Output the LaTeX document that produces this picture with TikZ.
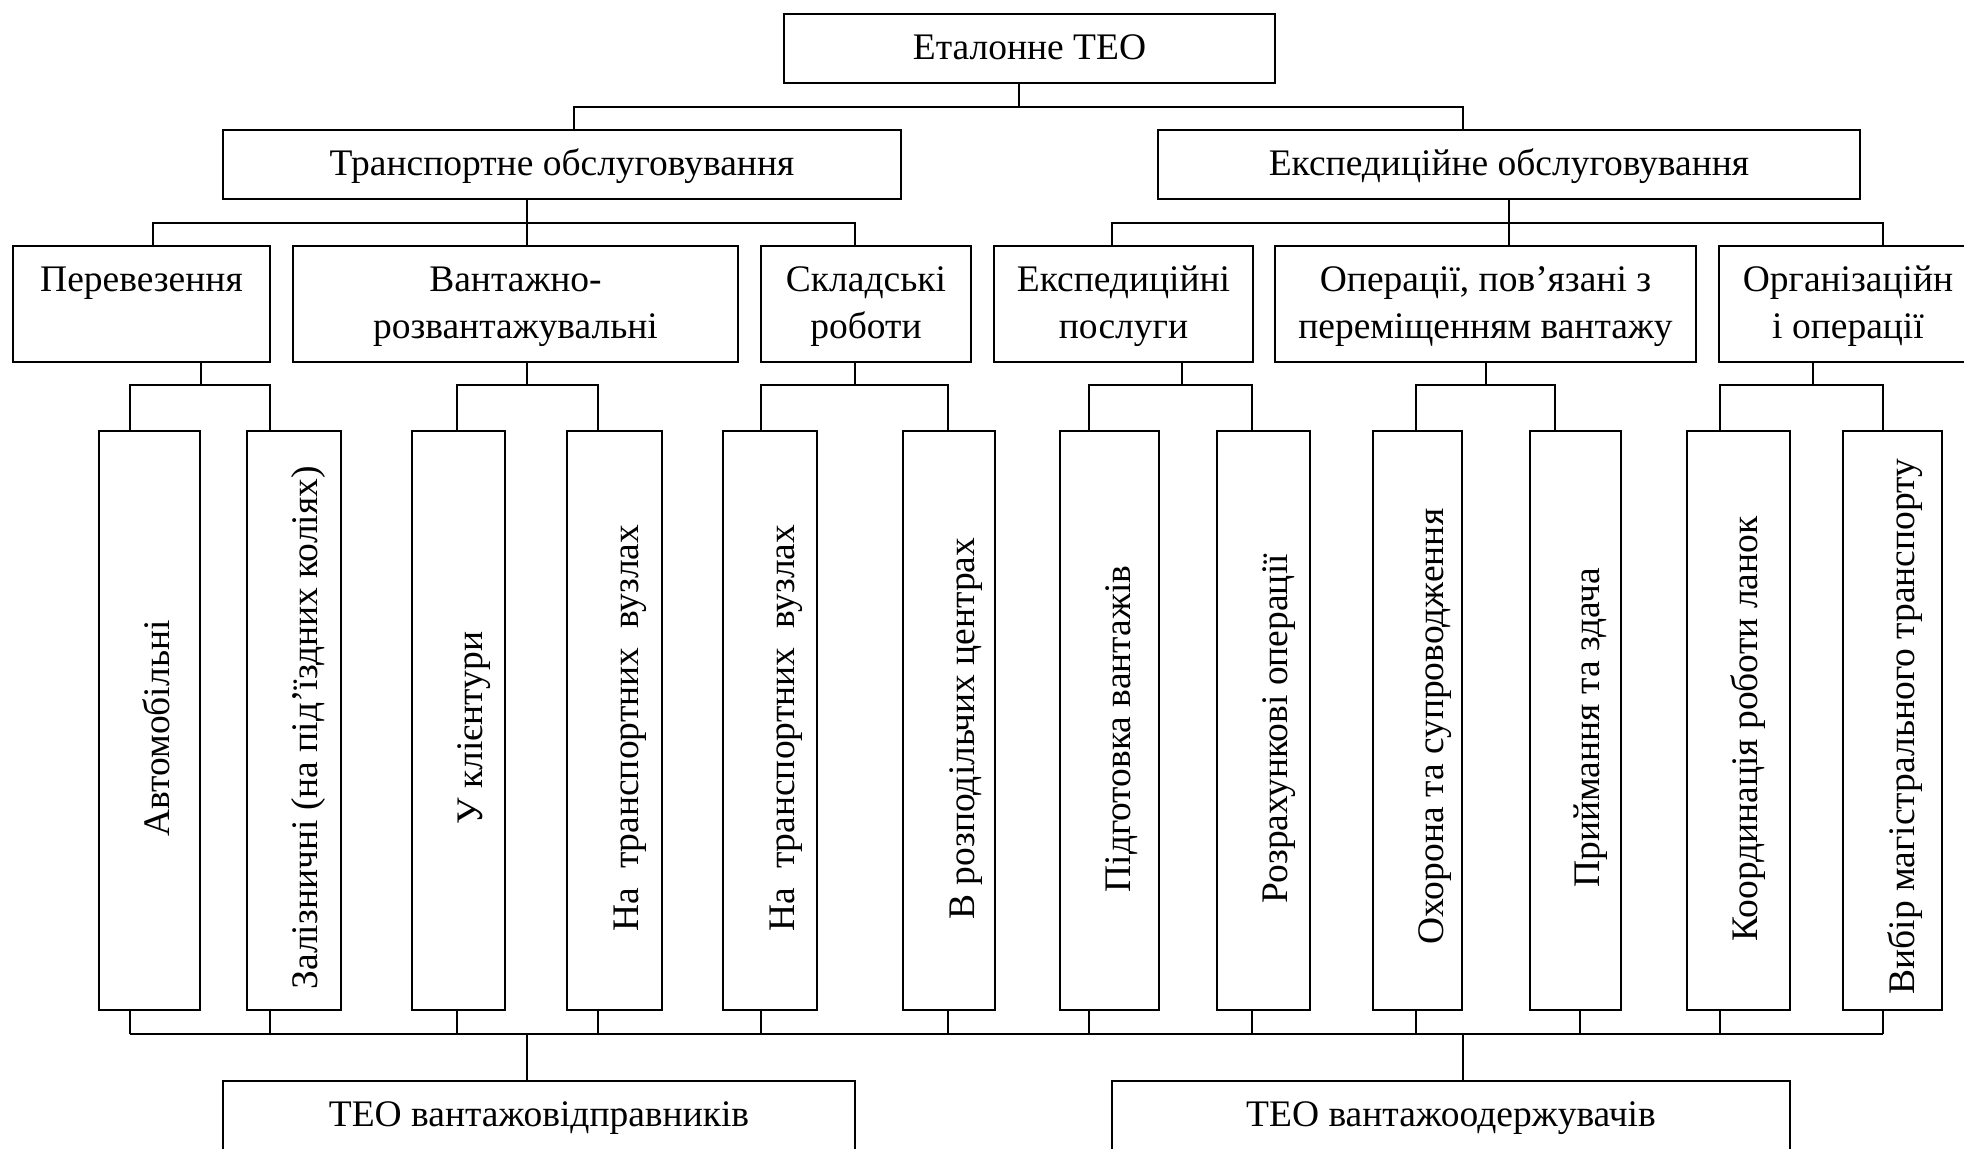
\documentclass[tikz,border=0pt]{standalone}
\usepackage{fontspec}
\setmainfont{Liberation Serif}
\usetikzlibrary{fit}
\newcommand\fs{\fontsize{13.5pt}{16.5pt}\selectfont}
\tikzset{
  box/.style={draw, line width=0.7pt, inner sep=0pt, outer sep=0pt},
  conn/.style={line width=0.55pt},
  lbl/.style={anchor=base, inner sep=0pt, font=\fs},
  vlbl/.style={anchor=base west, rotate=90, inner sep=0pt, font=\fs},
}
\begin{document}
\begin{tikzpicture}[x=0.36pt, y=-0.36pt]
\useasboundingbox (0,0) rectangle (1964,1148);
\fill[white] (0,0) rectangle (1964,1148);
\clip (0,0) rectangle (1964,1148);

% --- top level
\node[box, fit={(784,14) (1275,83)}] (root) {};
\node[lbl] (rootT) at (1029.5,59) {Еталонне ТЕО};

% --- second level
\node[box, fit={(223,130) (901,199)}] (trans) {};
\node[lbl] (transT) at (562,175) {Транспортне обслуговування};
\node[box, fit={(1158,130) (1860,199)}] (exped) {};
\node[lbl] (expedT) at (1509,175) {Експедиційне обслуговування};

% --- third level
\node[box, fit={(13,246) (270,362)}] (per) {};
\node[lbl] (perT) at (141.5,291) {Перевезення};
\node[box, fit={(293,246) (738,362)}] (vant) {};
\node[lbl] (vantTa) at (515.5,291) {Вантажно-};
\node[lbl] (vantTb) at (515.5,338) {розвантажувальні};
\node[box, fit={(761,246) (971,362)}] (skl) {};
\node[lbl] (sklTa) at (866,291) {Складські};
\node[lbl] (sklTb) at (866,338) {роботи};
\node[box, fit={(994,246) (1253,362)}] (eksp) {};
\node[lbl] (ekspTa) at (1123.5,291) {Експедиційні};
\node[lbl] (ekspTb) at (1123.5,338) {послуги};
\node[box, fit={(1275,246) (1696,362)}] (oper) {};
\node[lbl] (operTa) at (1485.5,291) {Операції, пов’язані з};
\node[lbl] (operTb) at (1485.5,338) {переміщенням вантажу};
\node[box, fit={(1719,246) (1977,362)}] (org) {};
\node[lbl] (orgTa) at (1848,291) {Організаційн};
\node[lbl] (orgTb) at (1848,338) {і операції};

% --- leaves
\node[box, fit={(99,431) (200,1010)}] (avto) {};
\node[vlbl] (avtoT) at (169,837) {Автомобільні};
\node[box, fit={(247,431) (341,1010)}] (zal) {};
\node[vlbl] (zalT) at (317,990) {Залізничні (на під’їздних коліях)};
\node[box, fit={(412,431) (505,1010)}] (kli) {};
\node[vlbl] (kliT) at (482,825) {У клієнтури};
\node[box, fit={(567,431) (662,1010)}] (vuza) {};
\node[vlbl] (vuzaT) at (638,932) {На\ \ транспортних\ \ вузлах};
\node[box, fit={(723,431) (817,1010)}] (vuzb) {};
\node[vlbl] (vuzbT) at (794,932) {На\ \ транспортних\ \ вузлах};
\node[box, fit={(903,431) (995,1010)}] (rozp) {};
\node[vlbl] (rozpT) at (974,920) {В розподільчих\ центрах};
\node[box, fit={(1060,431) (1159,1010)}] (pidg) {};
\node[vlbl] (pidgT) at (1130,893) {Підготовка\ вантажів};
\node[box, fit={(1217,431) (1310,1010)}] (rozr) {};
\node[vlbl] (rozrT) at (1287,904) {Розрахункові операції};
\node[box, fit={(1373,431) (1462,1010)}] (ohor) {};
\node[vlbl] (ohorT) at (1443,945) {Охорона та супроводження};
\node[box, fit={(1530,431) (1621,1010)}] (prii) {};
\node[vlbl] (priiT) at (1599,888) {Приймання та здача};
\node[box, fit={(1687,431) (1790,1010)}] (koor) {};
\node[vlbl] (koorT) at (1757,942) {Координація роботи ланок};
\node[box, fit={(1843,431) (1942,1010)}] (vyb) {};
\node[vlbl] (vybT) at (1914,995) {Вибір магістрального транспорту};

% --- bottom level
\node[box, fit={(223,1081) (855,1170)}] (send) {};
\node[lbl] (sendT) at (539,1126) {ТЕО вантажовідправників};
\node[box, fit={(1112,1081) (1790,1170)}] (recv) {};
\node[lbl] (recvT) at (1451,1126) {ТЕО вантажоодержувачів};

% --- connectors: root to second level
\coordinate (r0) at (1019,107);
\coordinate (r1) at (574,107);
\coordinate (r2) at (1463,107);
\draw[conn] (root.south -| r0) -- (r0);
\draw[conn] (trans.north -| r1) -- (r1) -- (r2) -- (exped.north -| r2);

% --- second to third level
\coordinate (t1) at (153,223);
\coordinate (t2) at (855,223);
\coordinate (t0) at (527,223);
\draw[conn] (trans.south -| t0) -- (vant.north -| t0);
\draw[conn] (per.north -| t1) -- (t1) -- (t2) -- (skl.north -| t2);
\coordinate (e1) at (1112,223);
\coordinate (e2) at (1883,223);
\coordinate (e0) at (1509,223);
\draw[conn] (exped.south -| e0) -- (oper.north -| e0);
\draw[conn] (eksp.north -| e1) -- (e1) -- (e2) -- (org.north -| e2);

% --- third level to leaves
\foreach \pn/\dx/\la/\xa/\lb/\xb in {per/201/avto/130/zal/270,
    vant/527/kli/457/vuza/598, skl/855/vuzb/761/rozp/948,
    eksp/1182/pidg/1089/rozr/1252, oper/1486/ohor/1416/prii/1555,
    org/1813/koor/1720/vyb/1883}{
  \coordinate (d) at (\dx,385);
  \coordinate (a) at (\xa,385);
  \coordinate (b) at (\xb,385);
  \draw[conn] (\pn.south -| d) -- (d);
  \draw[conn] (\la.north -| a) -- (a) -- (b) -- (\lb.north -| b);
}

% --- leaves to bottom level
\coordinate (bl) at (130,1034);
\coordinate (br) at (1883,1034);
\draw[conn] (bl) -- (br);
\foreach \lf/\xx in {avto/130, zal/270, kli/457, vuza/598, vuzb/761,
    rozp/948, pidg/1089, rozr/1252, ohor/1416, prii/1580, koor/1720, vyb/1883}{
  \coordinate (c) at (\xx,1034);
  \draw[conn] (\lf.south -| c) -- (c);
}
\coordinate (s0) at (527,1034);
\coordinate (s1) at (1463,1034);
\draw[conn] (s0) -- (send.north -| s0);
\draw[conn] (s1) -- (recv.north -| s1);
\end{tikzpicture}
\end{document}
